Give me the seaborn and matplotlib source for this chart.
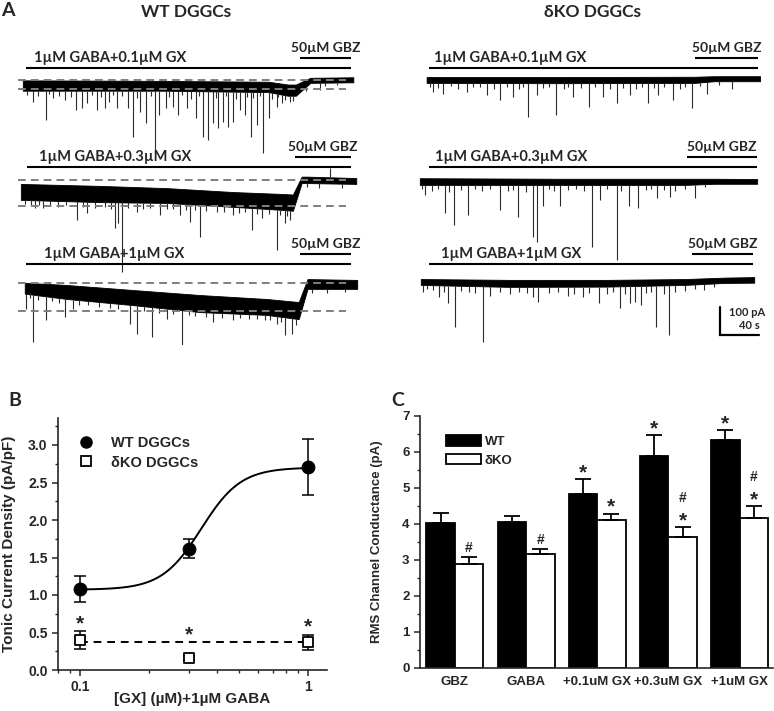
import numpy as np
import pandas as pd
import matplotlib
matplotlib.use("Agg")
import matplotlib.pyplot as plt
from matplotlib.patches import Patch
from matplotlib.lines import Line2D
from matplotlib.ticker import MultipleLocator, LogLocator, NullFormatter, FixedLocator, FixedFormatter
import seaborn as sns

# ============================================================================
# DATA
# ============================================================================

# --- Panel A: whole-cell traces (time in s, current in pA, 0 = level in GBZ)
# noise band envelope: time, upper edge, lower edge
wt1_t = [8, 150, 260, 280, 288, 303, 347]
wt1_hi = [-3, -5, -8, -18, -18, 6, 8]
wt1_lo = [-40, -40, -45, -58, -58, -12, -10]
wt2_t = [6, 87, 156, 224, 275, 285, 294, 300, 350]
wt2_hi = [-14, -21, -29, -43, -50, -52, 12, 12, 7]
wt2_lo = [-71, -79, -82, -96, -107, -110, -11, -11, -14]
wt3_t = [10, 53, 121, 190, 258, 291, 300, 351]
wt3_hi = [1, -7, -25, -43, -57, -68, 14, 11]
wt3_lo = [-38, -57, -79, -104, -114, -129, -21, -21]
ko1_t = [15, 150, 290, 310, 357]
ko1_hi = [7, 7, 8, 10, 10]
ko1_lo = [-14, -15, -14, -8, -8]
ko2_t = [8, 150, 280, 310, 354]
ko2_hi = [10, 8, 8, 8, 7]
ko2_lo = [-14, -14, -14, -10, -10]
ko3_t = [9, 100, 200, 280, 320, 351]
ko3_hi = [7, 4, 4, 7, 12, 14]
ko3_lo = [-14, -21, -20, -14, -7, -6]

# large synaptic events: time (s), peak current (pA)
wt1_ev_t = [18.8, 31.8, 39.3, 51.3, 62.6, 68.4, 74.2, 83.8, 92.3, 96.8, 104.3, 116.2, 121.4,
            128.2, 134.4, 143.6, 148, 154.9, 162.4, 167.5, 176.1, 185.6, 193.2, 198.3, 203.4,
            208.5, 213, 218.8, 223.9, 230.8, 235.9, 241.7, 247.9, 254.7, 260.9, 268.4, 273.5,
            282, 312.8]
wt1_ev_pa = [-79, -145, -67, -73, -109, -103, -85, -109, -103, -79, -103, -103, -204,
             -115, -157, -252, -127, -103, -97, -127, -103, -139, -204, -216, -157,
             -174, -151, -168, -151, -109, -127, -204, -163, -264, -139, -97, -85,
             -79, -37]
wt2_ev_t = [20.5, 29, 63.2, 74.2, 102.6, 106, 109.4, 124.8, 148.7, 169.2, 179.5, 189.7,
            206.8, 223.9, 242.7, 252.9, 268.4, 276.9, 282.1, 323]
wt2_ev_pa = [-101, -99, -143, -119, -173, -155, -329, -113, -125, -125, -149, -202,
             -113, -125, -179, -137, -250, -155, -143, 42]
wt3_ev_t = [11.3, 18.8, 31.8, 51.3, 59.8, 117.9, 124.8, 141, 155.6, 170.9, 203.4, 223.9,
            268.4, 276.9, 283.8]
wt3_ev_pa = [-92, -211, -133, -120, -92, -145, -181, -193, -129, -252, -139, -133,
             -145, -187, -181]
ko1_ev_t = [21.9, 32.1, 56.1, 76.6, 90.3, 103.9, 119.3, 127.9, 147.7, 165.4, 181.9, 196.2,
            209.9, 223.6, 242.4, 252.6, 268, 286.9, 302.2, 327.9]
ko1_ev_pa = [-45, -52, -45, -56, -75, -63, -135, -56, -129, -63, -99, -63,
             -87, -56, -87, -56, -75, -105, -52, -34]
ko2_ev_t = [13.3, 33.8, 43.1, 57.8, 90.3, 109, 124.4, 127.9, 134.8, 151.8, 184.3, 192.8,
            209.9, 222.2, 232.1, 251, 264.6, 290.3]
ko2_ev_pa = [-50, -115, -157, -121, -104, -130, -199, -217, -89, -89, -236, -68,
             -282, -89, -98, -62, -56, -62]
ko3_ev_t = [11.6, 28, 37.3, 44.1, 72.5, 80, 124.4, 129.5, 159.8, 175, 192.1, 213.3,
            223.6, 228.7, 234.5, 250.3, 263.9, 299.5]
ko3_ev_pa = [-38, -56, -80, -163, -217, -52, -56, -74, -52, -58, -80, -98,
             -80, -74, -86, -163, -193, -33]

# small events riding on the noise band: time (s), peak current (pA)
wt1_small_t = [12, 24, 35, 45, 57, 79, 88, 101, 110, 125, 139, 158, 171, 181, 189, 206,
               216, 227, 238, 244, 251, 264, 270, 277, 285, 298, 318, 330]
wt1_small_pa = [-55, -60, -52, -58, -62, -55, -64, -57, -60, -66, -58, -62, -55, -68, -60, -65,
                -58, -70, -62, -66, -59, -70, -64, -72, -75, -40, -22, -20]
wt2_small_t = [10, 16, 25, 36, 44, 52, 70, 82, 92, 98, 116, 131, 138, 156, 162, 175, 185,
               196, 214, 230, 236, 248, 260, 272, 279, 300, 312, 335]
wt2_small_pa = [-85, -90, -88, -92, -95, -90, -97, -100, -95, -102, -100, -104, -99, -105,
                -103, -108, -106, -112, -115, -118, -114, -122, -120, -126, -128, -25, -28, -30]
wt3_small_t = [15, 24, 38, 45, 66, 75, 86, 97, 106, 132, 148, 162, 178, 185, 196, 212, 231,
               240, 248, 256, 262, 273, 288, 305, 320, 338]
wt3_small_pa = [-55, -62, -66, -70, -78, -80, -84, -90, -92, -100, -106, -110, -116, -118,
                -122, -124, -126, -128, -130, -131, -133, -138, -150, -34, -34, -33]
ko1_small_t = [18, 27, 40, 47, 63, 70, 84, 97, 110, 114, 134, 140, 156, 160, 173, 188, 203,
               216, 230, 236, 248, 258, 275, 280, 295, 315]
ko1_small_pa = [-28, -32, -26, -35, -30, -28, -34, -30, -36, -29, -33, -27, -35, -30, -32,
                -28, -34, -31, -36, -29, -33, -30, -35, -28, -25, -20]
ko2_small_t = [10, 20, 27, 38, 50, 65, 72, 80, 98, 104, 117, 140, 146, 160, 168, 176, 200,
               214, 240, 245, 258, 270, 280, 300]
ko2_small_pa = [-30, -35, -28, -40, -33, -30, -36, -29, -34, -31, -38, -30, -35, -32, -28,
                -36, -30, -34, -33, -29, -31, -35, -28, -22]
ko3_small_t = [15, 22, 33, 50, 58, 65, 90, 100, 110, 118, 140, 150, 166, 182, 200, 206, 218,
               240, 245, 258, 270, 280, 290, 310]
ko3_small_pa = [-28, -32, -40, -35, -38, -42, -40, -45, -38, -42, -44, -40, -46, -42, -45,
                -40, -48, -44, -40, -46, -38, -35, -30, -22]

# drug application: GABA+GX start, GBZ start, end (s)
wt1_app = [11, 292, 345]
wt2_app = [12, 287, 345]
wt3_app = [11, 292, 345]
ko1_app = [17, 290, 355]
ko2_app = [17, 282, 354]
ko3_app = [17, 287, 350]

# dashed reference levels (pA) in WT traces: GBZ level and GX level
wt1_dash = [0, -34]
wt2_dash = [0, -93]
wt3_dash = [0, -100]

row_labels = ['1µM GABA+0.1µM GX', '1µM GABA+0.3µM GX', '1µM GABA+1µM GX']

# --- Panel B: tonic current density
gx_conc = [0.1, 0.3, 1.0]
wt_density = [1.08, 1.62, 2.71]
wt_density_sem = [0.17, 0.13, 0.37]
ko_density = [0.40, 0.16, 0.37]
ko_density_sem = [0.12, 0.03, 0.10]
ko_star_level = [0.67, 0.53, 0.64]
ko_mean_level = 0.38
hill_bottom, hill_top, hill_ec50, hill_n = 1.07, 2.70, 0.34, 5.0

# --- Panel C: RMS channel conductance
conditions = ['GBZ', 'GABA', '+0.1uM GX', '+0.3uM GX', '+1uM GX']
wt_rms = [4.02, 4.05, 4.83, 5.88, 6.34]
wt_rms_sem = [0.29, 0.17, 0.41, 0.58, 0.26]
ko_rms = [2.89, 3.16, 4.11, 3.65, 4.17]
ko_rms_sem = [0.20, 0.15, 0.18, 0.26, 0.33]
wt_marks = ['', '', '*', '*', '*']
ko_marks = ['#', '#', '*', '#*', '#*']

# ============================================================================
# STYLE / LAYOUT
# ============================================================================

sns.set_style("ticks")
plt.rcParams['font.family'] = ['Liberation Sans', 'DejaVu Sans']
plt.rcParams['font.weight'] = 'bold'
LABEL_FONT = ['Lato', 'DejaVu Sans']

FIG_W, FIG_H = 774, 711
fig = plt.figure(figsize=(FIG_W / 100, FIG_H / 100), dpi=100)


def px_axes(left, top, right, bottom):
    return fig.add_axes([left / FIG_W, 1 - bottom / FIG_H,
                         (right - left) / FIG_W, (bottom - top) / FIG_H])


def fig_text(x, y, s, **kw):
    fig.text(x / FIG_W, 1 - y / FIG_H, s, **kw)


# ============================================================================
# PANEL A
# ============================================================================

PX_PER_S = 0.975
PX_PER_PA = 0.28
T_SPAN = 360
col_left = [15, 412]
row_box = [(35, 165, 68), (135, 280, 167), (232, 345, 264)]   # top, bottom, bar (px)

traces = [
    (0, 0, 79.5, wt1_t, wt1_hi, wt1_lo, wt1_ev_t + wt1_small_t, wt1_ev_pa + wt1_small_pa,
     wt1_app, wt1_dash, 19),
    (0, 1, 180, wt2_t, wt2_hi, wt2_lo, wt2_ev_t + wt2_small_t, wt2_ev_pa + wt2_small_pa,
     wt2_app, wt2_dash, 25),
    (0, 2, 283, wt3_t, wt3_hi, wt3_lo, wt3_ev_t + wt3_small_t, wt3_ev_pa + wt3_small_pa,
     wt3_app, wt3_dash, 30),
    (1, 0, 79, ko1_t, ko1_hi, ko1_lo, ko1_ev_t + ko1_small_t, ko1_ev_pa + ko1_small_pa,
     ko1_app, None, 23),
    (1, 1, 181, ko2_t, ko2_hi, ko2_lo, ko2_ev_t + ko2_small_t, ko2_ev_pa + ko2_small_pa,
     ko2_app, None, 24),
    (1, 2, 281, ko3_t, ko3_hi, ko3_lo, ko3_ev_t + ko3_small_t, ko3_ev_pa + ko3_small_pa,
     ko3_app, None, 30),
]

for col, row, y0, t, hi, lo, ev_t, ev_pa, app, dash, label_t in traces:
    top, bottom, bar_px = row_box[row]
    left = col_left[col]
    ax = px_axes(left, top, left + T_SPAN * PX_PER_S, bottom)
    ax.set_xlim(0, T_SPAN)
    ax.set_ylim((y0 - bottom) / PX_PER_PA, (y0 - top) / PX_PER_PA)
    ax.axis('off')

    ax.fill_between(t, lo, hi, color='black', lw=0.6, edgecolor='black')
    ev_t = np.asarray(ev_t, float)
    ev_pa = np.asarray(ev_pa, float)
    base = np.where(ev_pa < 0, np.interp(ev_t, t, lo), np.interp(ev_t, t, hi))
    ax.vlines(ev_t, base, ev_pa, color='#2a2a2a', lw=0.8)

    if dash is not None:
        ax.hlines(dash, 3, 340, colors='#7f7f7f', linestyles=(0, (4, 2.6)), lw=1.4, zorder=5)

    bar_pa = (y0 - bar_px) / PX_PER_PA
    step = 10 / PX_PER_PA
    ax.hlines(bar_pa, app[0], app[2], color='black', lw=1.5, clip_on=False)
    ax.hlines(bar_pa + step, app[1], app[2], color='black', lw=1.5, clip_on=False)
    ax.text(label_t, bar_pa + step, row_labels[row], family=LABEL_FONT,
            fontsize=10.5, fontweight='bold', va='center', ha='left')
    ax.text((app[1] + app[2]) / 2, bar_pa + 2 * step, '50µM GBZ', family=LABEL_FONT,
            fontsize=10, fontweight='bold', va='center', ha='center')

    if col == 1 and row == 2:
        # scale bar: 100 pA, 40 s
        sx = (720 - left) / PX_PER_S
        sy = (y0 - 335) / PX_PER_PA
        ax.plot([sx, sx, sx + 40], [sy + 100, sy, sy], color='black', lw=1.6,
                solid_joinstyle='miter', clip_on=False)
        ax.text((765 - left) / PX_PER_S, sy + 82, '100 pA', family=LABEL_FONT,
                fontsize=8, fontweight='bold', ha='right', va='center')
        ax.text((760 - left) / PX_PER_S, sy + 34, '40 s', family=LABEL_FONT,
                fontsize=8, fontweight='bold', ha='right', va='center')

fig_text(8, 10, 'A', family=LABEL_FONT, fontsize=14, fontweight='bold', ha='center', va='center')
fig_text(186, 12, 'WT DGGCs', family=LABEL_FONT, fontsize=12.5, fontweight='bold', ha='center', va='center')
fig_text(592, 12, 'δKO DGGCs', family=LABEL_FONT, fontsize=12.5, fontweight='bold', ha='center', va='center')

# ============================================================================
# PANEL B
# ============================================================================

axB = px_axes(58, 418, 327, 670)
xfit = np.logspace(np.log10(gx_conc[0]), np.log10(gx_conc[-1]), 200)
yfit = hill_bottom + (hill_top - hill_bottom) / (1 + (hill_ec50 / xfit) ** hill_n)
sns.lineplot(x=xfit, y=yfit, ax=axB, color='black', lw=1.4)
axB.plot([gx_conc[0], gx_conc[-1]], [ko_mean_level, ko_mean_level], color='black',
         lw=1.4, ls=(0, (4, 3)))
axB.errorbar(gx_conc, wt_density, yerr=wt_density_sem, fmt='none', ecolor='black',
             elinewidth=1.1, capsize=4.5, capthick=1.1)
axB.errorbar(gx_conc, ko_density, yerr=ko_density_sem, fmt='none', ecolor='black',
             elinewidth=1.1, capsize=4.5, capthick=1.1)
sns.scatterplot(x=gx_conc, y=wt_density, ax=axB, marker='o', s=85, color='black',
                edgecolor='black', zorder=5)
sns.scatterplot(x=gx_conc, y=ko_density, ax=axB, marker='s', s=50, color='white',
                edgecolor='black', linewidth=1.3, zorder=5)
# the asterisk glyph sits above the middle of its text box: shift the box down a little
for x, y in zip(gx_conc, ko_star_level):
    axB.text(x, y - 0.06, '*', fontsize=15, fontweight='bold', ha='center', va='center')

axB.set_xscale('log')
axB.set_xlim(0.08, 1.21)
axB.set_ylim(0, 3.36)
axB.xaxis.set_major_locator(FixedLocator([0.1, 1]))
axB.xaxis.set_major_formatter(FixedFormatter(['0.1', '1']))
axB.xaxis.set_minor_locator(LogLocator(base=10, subs=np.arange(2, 10)))
axB.xaxis.set_minor_formatter(NullFormatter())
axB.yaxis.set_major_locator(MultipleLocator(0.5))
axB.yaxis.set_minor_locator(MultipleLocator(0.25))
axB.yaxis.set_major_formatter(matplotlib.ticker.FormatStrFormatter('%.1f'))
axB.set_xlabel('[GX] (µM)+1µM GABA', fontsize=11, fontweight='bold', labelpad=-1)
axB.set_ylabel('Tonic Current Density (pA/pF)', fontsize=11, fontweight='bold', labelpad=9)
sns.despine(ax=axB)

legB = [Line2D([], [], marker='o', ls='none', color='black', markersize=8),
        Line2D([], [], marker='s', ls='none', markerfacecolor='white',
               markeredgecolor='black', markeredgewidth=1.3, markersize=6.5)]
axB.legend(legB, ['WT DGGCs', 'δKO DGGCs'], loc='upper left', bbox_to_anchor=(0.03, 0.95),
           frameon=False, prop={'size': 10.5, 'weight': 'bold'}, handletextpad=0.7,
           labelspacing=0.35, borderaxespad=0)

fig_text(15, 400, 'B', family=LABEL_FONT, fontsize=14, fontweight='bold', ha='center', va='center')

# ============================================================================
# PANEL C
# ============================================================================

axC = px_axes(420, 416, 773, 668)
rms_df = pd.DataFrame({
    'condition': conditions * 2,
    'genotype': ['WT'] * len(conditions) + ['δKO'] * len(conditions),
    'rms': wt_rms + ko_rms,
})
sns.barplot(data=rms_df, x='condition', y='rms', hue='genotype', order=conditions,
            hue_order=['WT', 'δKO'], palette={'WT': 'black', 'δKO': 'white'},
            edgecolor='black', linewidth=1.3, errorbar=None, legend=False, width=0.8, ax=axC)

bars = sorted(axC.patches, key=lambda p: p.get_x())
centers = [p.get_x() + p.get_width() / 2 for p in bars]
heights = [p.get_height() for p in bars]
sems = [v for pair in zip(wt_rms_sem, ko_rms_sem) for v in pair]
marks = [v for pair in zip(wt_marks, ko_marks) for v in pair]
axC.errorbar(centers, heights, yerr=[np.zeros(len(sems)), sems], fmt='none',
             ecolor='black', elinewidth=1.3, capsize=5.5, capthick=1.3)
for x, h, s, m in zip(centers, heights, sems, marks):
    top = h + s
    if '*' in m:
        axC.text(x, top - 0.09, '*', fontsize=15, fontweight='bold', ha='center',
                 va='bottom', clip_on=False)
        top += 0.56
    if '#' in m:
        axC.text(x, top + 0.05, '#', fontsize=10, fontweight='bold', ha='center',
                 va='bottom', clip_on=False)

axC.set_xlim(-0.49, 4.47)
axC.set_ylim(0, 7)
axC.yaxis.set_major_locator(MultipleLocator(1))
axC.yaxis.set_minor_locator(MultipleLocator(0.5))
axC.set_xlabel('')
axC.set_ylabel('RMS Channel Conductance (pA)', fontsize=9.5, fontweight='bold', labelpad=14)
sns.despine(ax=axC)

legC = [Patch(facecolor='black', edgecolor='black', lw=1.3),
        Patch(facecolor='white', edgecolor='black', lw=1.3)]
axC.legend(legC, ['WT', 'δKO'], loc='upper left', bbox_to_anchor=(0.06, 0.945),
           frameon=False, prop={'size': 9.5, 'weight': 'bold'}, handlelength=2.6,
           handleheight=0.85, handletextpad=0.3, labelspacing=0.45, borderaxespad=0)

fig_text(398, 400, 'C', family=LABEL_FONT, fontsize=14, fontweight='bold', ha='center', va='center')

# common tick styling for B and C
for ax in (axB, axC):
    for sp in ax.spines.values():
        sp.set_linewidth(1.2)
    ax.tick_params(which='major', direction='out', length=4, width=1.1, labelsize=10)
    ax.tick_params(which='minor', direction='out', length=2.2, width=1.0)
    for lab in ax.get_xticklabels() + ax.get_yticklabels():
        lab.set_fontweight('bold')
axB.tick_params(axis='x', which='major', pad=3)
axC.tick_params(axis='x', which='both', length=0, labelsize=9.5, pad=6)
axC.tick_params(axis='y', labelsize=9.5)

fig.savefig('out.png', dpi=100)
